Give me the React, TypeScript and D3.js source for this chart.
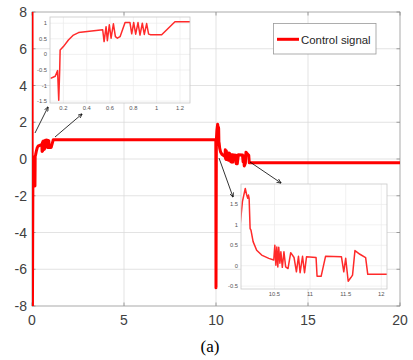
import * as React from 'react';
import * as d3 from 'd3';

// control signal samples (time, value)
const startT = [0, 0.02, 0.05];
const startY = [9, -9, -0.8];

const inset1T = [0.09, 0.13, 0.15, 0.16, 0.168, 0.172, 0.2, 0.243, 0.286, 0.33, 0.386, 0.537,
  0.549, 0.566, 0.577, 0.594, 0.609, 0.629, 0.646, 0.663, 0.686, 0.729, 0.771, 0.786, 0.803,
  0.82, 0.84, 0.857, 0.877, 0.894, 0.914, 0.931, 0.949, 1.043, 1.157, 1.286];
const inset1Y = [-0.77, -0.7, -0.52, -1.47, -0.52, 0.14, 0.25, 0.46, 0.62, 0.7, 0.73, 0.79,
  0.41, 0.89, 0.44, 0.95, 0.52, 0.98, 0.57, 0.52, 0.57, 1.02, 1.02, 0.66, 1.02,
  0.65, 1.02, 0.62, 1.0, 0.64, 0.99, 0.65, 0.63, 0.63, 1.05, 1.05];

const plateauT = [9.99];
const plateauY = [1.05];

const inset2T = [10.0, 10.02, 10.05, 10.09, 10.11, 10.125, 10.135, 10.144, 10.158, 10.17, 10.2,
  10.25, 10.32, 10.42, 10.49, 10.505, 10.52, 10.533, 10.547, 10.56, 10.576, 10.59, 10.61,
  10.633, 10.657, 10.69, 10.728, 10.775, 10.808, 10.837, 10.86, 10.894, 10.922, 10.95, 11.084,
  11.098, 11.155, 11.217, 11.44, 11.473, 11.5, 11.535, 11.573, 11.596, 11.63, 11.7, 11.78,
  11.81, 12.08];
const inset2Y = [-7.0, 1.03, 1.57, 1.89, 1.73, 1.65, 1.73, 1.65, 0.91, 0.87, 0.59,
  0.38, 0.26, 0.18, 0.14, 0.5, 0.01, 0.46, -0.03, 0.45, 0.06, 0.34, -0.04,
  0.34, -0.03, -0.07, 0.32, 0.2, -0.15, 0.23, -0.17, 0.23, -0.17, 0.22, 0.2,
  -0.26, -0.26, 0.23, 0.22, -0.15, 0.18, -0.38, -0.29, -0.23, 0.37, 0.28, 0.2,
  -0.21, -0.21];

const tailT = [20];
const tailY = [-0.21];

const mainXTicks = [0, 5, 10, 15, 20];
const mainYTicks = [-8, -6, -4, -2, 0, 2, 4, 6, 8];
const inset1XTicks = [0.2, 0.4, 0.6, 0.8, 1, 1.2];
const inset1YTicks = [-1.5, -1, -0.5, 0, 0.5, 1];
const inset2XTicks = [10.5, 11, 11.5, 12];
const inset2YTicks = [-0.5, 0, 0.5, 1, 1.5];

const seriesName = 'Control signal';
const caption = '(a)';

const zip = (t, y) => t.map((v, i) => [v, y[i]]);

const mainData = [
  ...zip(startT, startY),
  ...zip(inset1T, inset1Y),
  ...zip(plateauT, plateauY),
  ...zip(inset2T, inset2Y),
  ...zip(tailT, tailY),
];

const fmt = (v) => String(v);

const Inset = ({ id, box, xDomain, yDomain, xTicks, yTicks, data }) => {
  const x = d3.scaleLinear().domain(xDomain).range([box.x0, box.x1]);
  const y = d3.scaleLinear().domain(yDomain).range([box.y1, box.y0]);
  const line = d3.line().x((d) => x(d[0])).y((d) => y(d[1]));
  return (
    <g>
      <defs>
        <clipPath id={id}>
          <rect x={box.x0} y={box.y0} width={box.x1 - box.x0} height={box.y1 - box.y0} />
        </clipPath>
      </defs>
      <rect x={box.x0} y={box.y0} width={box.x1 - box.x0} height={box.y1 - box.y0} fill="#fff" />
      {xTicks.map((t) => (
        <line key={'gx' + t} x1={x(t)} x2={x(t)} y1={box.y0} y2={box.y1} stroke="#ebebeb" strokeWidth={0.7} />
      ))}
      {yTicks.map((t) => (
        <line key={'gy' + t} x1={box.x0} x2={box.x1} y1={y(t)} y2={y(t)} stroke="#ebebeb" strokeWidth={0.7} />
      ))}
      <path d={line(data)} fill="none" stroke="#ff2a2a" strokeWidth={1.5} strokeLinejoin="round" clipPath={`url(#${id})`} />
      <rect x={box.x0} y={box.y0} width={box.x1 - box.x0} height={box.y1 - box.y0} fill="none" stroke="#c8c8c8" strokeWidth={0.8} />
      {xTicks.map((t) => (
        <text key={'lx' + t} x={x(t)} y={box.y1 + 7} fontSize={5.8} fill="#555" textAnchor="middle" fontFamily="Liberation Sans, Arial, sans-serif">
          {fmt(t)}
        </text>
      ))}
      {yTicks.map((t) => (
        <text key={'ly' + t} x={box.x0 - 3} y={y(t) + 2} fontSize={5.8} fill="#555" textAnchor="end" fontFamily="Liberation Sans, Arial, sans-serif">
          {fmt(t)}
        </text>
      ))}
    </g>
  );
};

const App = () => {
  const width = 413;
  const height = 360;
  const x = d3.scaleLinear().domain([0, 20]).range([32, 400]);
  const y = d3.scaleLinear().domain([-8, 8]).range([306, 12]);
  const line = d3.line().x((d) => x(d[0])).y((d) => y(d[1]));
  const font = 'Liberation Sans, Arial, sans-serif';

  const arrows = [
    [35, 133, 48, 107],
    [55, 137, 82, 114],
    [219, 158, 233, 197],
    [250, 162, 281, 183],
  ];

  return (
    <svg width={width} height={height} style={{ position: 'absolute', left: 0, top: 0, background: '#fff' }}>
      <defs>
        <clipPath id="mainClip">
          <rect x={32} y={12} width={368} height={294} />
        </clipPath>
        <marker id="arrowHead" viewBox="0 0 10 10" refX="9" refY="5" markerWidth="6" markerHeight="6" orient="auto">
          <path d="M0,1 L10,5 L0,9" fill="none" stroke="#000" strokeWidth={1.5} />
        </marker>
      </defs>

      {mainXTicks.map((t) => (
        <line key={'gx' + t} x1={x(t)} x2={x(t)} y1={12} y2={306} stroke="#dcdcdc" strokeWidth={0.8} />
      ))}
      {mainYTicks.map((t) => (
        <line key={'gy' + t} x1={32} x2={400} y1={y(t)} y2={y(t)} stroke="#dcdcdc" strokeWidth={0.8} />
      ))}
      <rect x={32} y={12} width={368} height={294} fill="none" stroke="#aaa" strokeWidth={0.8} />
      {mainXTicks.map((t) => (
        <g key={'tx' + t}>
          <line x1={x(t)} x2={x(t)} y1={12} y2={15.5} stroke="#888" strokeWidth={0.8} />
          <line x1={x(t)} x2={x(t)} y1={306} y2={302.5} stroke="#888" strokeWidth={0.8} />
        </g>
      ))}
      {mainYTicks.map((t) => (
        <g key={'ty' + t}>
          <line x1={32} x2={35.5} y1={y(t)} y2={y(t)} stroke="#888" strokeWidth={0.8} />
          <line x1={400} x2={396.5} y1={y(t)} y2={y(t)} stroke="#888" strokeWidth={0.8} />
        </g>
      ))}

      <path d={line(mainData)} fill="none" stroke="#ff0000" strokeWidth={3} strokeLinejoin="round" clipPath="url(#mainClip)" />

      {mainXTicks.map((t) => (
        <text key={'lx' + t} x={x(t)} y={325} fontSize={14} fill="#404040" textAnchor="middle" fontFamily={font}>
          {t}
        </text>
      ))}
      {mainYTicks.map((t) => (
        <text key={'ly' + t} x={27} y={y(t) + 5} fontSize={14} fill="#404040" textAnchor="end" fontFamily={font}>
          {t}
        </text>
      ))}

      <Inset
        id="inset1"
        box={{ x0: 50, x1: 190, y0: 17, y1: 103 }}
        xDomain={[0.085, 1.286]}
        yDomain={[-1.56, 1.2]}
        xTicks={inset1XTicks}
        yTicks={inset1YTicks}
        data={zip(inset1T, inset1Y)}
      />
      <Inset
        id="inset2"
        box={{ x0: 241, x1: 387, y0: 184, y1: 289 }}
        xDomain={[10.03, 12.08]}
        yDomain={[-0.57, 2.0]}
        xTicks={inset2XTicks}
        yTicks={inset2YTicks}
        data={zip(inset2T, inset2Y)}
      />

      {arrows.map((a, i) => (
        <line key={'ar' + i} x1={a[0]} y1={a[1]} x2={a[2]} y2={a[3]} stroke="#000" strokeWidth={0.8} markerEnd="url(#arrowHead)" />
      ))}

      <rect x={273.5} y={23.5} width={102.5} height={30.5} fill="#fff" stroke="#999" strokeWidth={0.8} />
      <line x1={277} x2={299} y1={39.3} y2={39.3} stroke="#ff0000" strokeWidth={3} />
      <text x={301} y={43.5} fontSize={11.4} fill="#262626" fontFamily={font}>
        {seriesName}
      </text>

      <text x={210} y={352} fontSize={17} textAnchor="middle" fill="#000" fontFamily="Liberation Serif, Times New Roman, serif">
        {caption}
      </text>
    </svg>
  );
};

export default App;
